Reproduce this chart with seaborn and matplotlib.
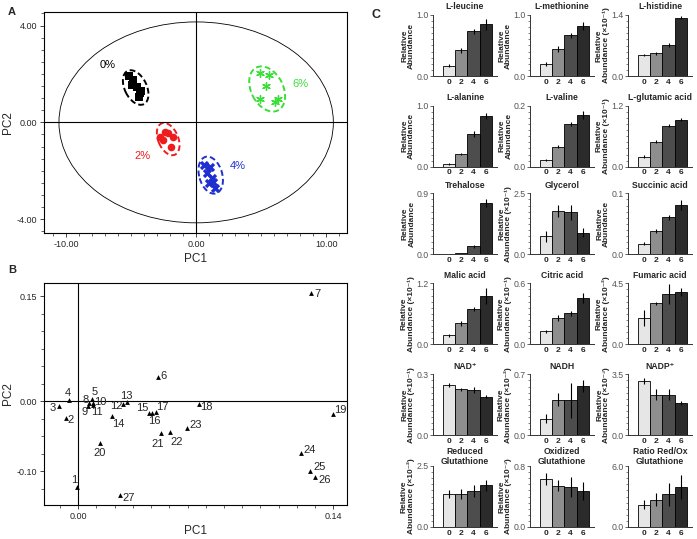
import numpy as np
import pandas as pd
import seaborn as sns
import matplotlib.pyplot as plt
from matplotlib.patches import Ellipse
from matplotlib.ticker import MultipleLocator
from matplotlib.transforms import ScaledTranslation

# ---- Panel A: PCA scores ----
zero_x = [-5.13, -4.82, -4.95, -4.56, -4.25, -4.30, -4.43]
zero_y = [1.91, 1.75, 1.54, 1.47, 1.30, 1.20, 1.06]
two_x = [-2.77, -2.38, -2.13, -1.75, -2.54, -1.92]
two_y = [-0.60, -0.39, -0.45, -0.60, -0.73, -1.01]
four_x = [0.62, 1.08, 0.82, 1.20, 0.95, 1.46, 1.33]
four_y = [-1.76, -1.83, -2.10, -2.31, -2.52, -2.73, -2.45]
six_x = [4.90, 5.60, 5.40, 4.90, 6.30, 6.05]
six_y = [2.05, 1.96, 1.50, 0.96, 0.98, 0.83]

# ---- Panel B: PCA loadings ----
load_ids = [1, 2, 3, 4, 5, 6, 7, 8, 9, 10, 11, 12, 13, 14, 15, 16, 17, 18,
            19, 20, 21, 22, 23, 24, 25, 26, 27]
load_x = [-0.0005, -0.0069, -0.0106, -0.0049, 0.0075, 0.0439, 0.1280, 0.0060,
          0.0055, 0.0079, 0.0082, 0.0247, 0.0269, 0.0183, 0.0388, 0.0407,
          0.0425, 0.0663, 0.1400, 0.0119, 0.0454, 0.0505, 0.0597, 0.1221,
          0.1274, 0.1302, 0.0229]
load_y = [-0.123, -0.0248, -0.0071, 0.0014, 0.0024, 0.0339, 0.1547, -0.0024,
          -0.0070, -0.0030, -0.0050, -0.0048, -0.0019, -0.0210, -0.0176,
          -0.0176, -0.0152, -0.0048, -0.0186, -0.0596, -0.0462, -0.0448,
          -0.0390, -0.0748, -0.0995, -0.1080, -0.134]

# ---- Panel C: metabolite bar charts ----
conc_labels = ["0", "2", "4", "6"]
metabolites = ["L-leucine", "L-methionine", "L-histidine",
               "L-alanine", "L-valine", "L-glutamic acid",
               "Trehalose", "Glycerol", "Succinic acid",
               "Malic acid", "Citric acid", "Fumaric acid",
               "NAD⁺", "NADH", "NADP⁺",
               "Reduced\nGlutathione", "Oxidized\nGlutathione", "Ratio Red/Ox\nGlutathione"]
y_max = [1.0, 1.0, 1.4, 1.0, 0.2, 1.2, 0.9, 2.5, 0.1,
         1.2, 0.6, 4.5, 0.3, 0.7, 3.5, 2.5, 0.8, 6.0]
y_scale = ["", "", " (×10⁻¹)", "", "", " (×10⁻¹)", "", " (×10⁻¹)", "",
           " (×10⁻¹)", " (×10⁻¹)", " (×10⁻²)", " (×10⁻¹)", " (×10⁻²)", " (×10⁻³)",
           " (×10⁻²)", " (×10⁻³)", None]
means = [
    [0.17, 0.42, 0.73, 0.85],
    [0.20, 0.44, 0.67, 0.82],
    [0.48, 0.52, 0.71, 1.34],
    [0.045, 0.21, 0.53, 0.83],
    [0.022, 0.066, 0.139, 0.169],
    [0.195, 0.49, 0.81, 0.92],
    [0.005, 0.015, 0.12, 0.76],
    [0.74, 1.77, 1.72, 0.88],
    [0.0176, 0.038, 0.061, 0.081],
    [0.18, 0.41, 0.69, 0.95],
    [0.13, 0.256, 0.305, 0.453],
    [1.96, 3.03, 3.69, 3.87],
    [0.246, 0.226, 0.224, 0.19],
    [0.19, 0.41, 0.40, 0.565],
    [3.11, 2.33, 2.33, 1.85],
    [1.34, 1.34, 1.48, 1.71],
    [0.625, 0.54, 0.525, 0.47],
    [2.21, 2.70, 3.20, 3.96],
]
errs = [
    [0.02, 0.04, 0.04, 0.09],
    [0.03, 0.05, 0.04, 0.07],
    [0.02, 0.03, 0.04, 0.03],
    [0.01, 0.02, 0.05, 0.05],
    [0.004, 0.006, 0.007, 0.013],
    [0.03, 0.03, 0.03, 0.03],
    [0.003, 0.01, 0.02, 0.06],
    [0.22, 0.25, 0.30, 0.18],
    [0.003, 0.003, 0.004, 0.008],
    [0.03, 0.05, 0.04, 0.15],
    [0.015, 0.03, 0.025, 0.05],
    [0.60, 0.12, 0.75, 0.30],
    [0.01, 0.008, 0.015, 0.006],
    [0.05, 0.07, 0.20, 0.07],
    [0.18, 0.30, 0.30, 0.10],
    [0.17, 0.20, 0.25, 0.22],
    [0.08, 0.07, 0.13, 0.12],
    [0.40, 0.65, 1.15, 1.20],
]
bar_colors = ["#e6e6e6", "#8e8e8e", "#4d4d4d", "#2b2b2b"]

W, H = 697, 539


def px_axes(fig, left, top, width, height):
    return fig.add_axes([left / W, 1 - (top + height) / H, width / W, height / H])


def style_pca(ax):
    for sp in ax.spines.values():
        sp.set_linewidth(0.8)
        sp.set_color("black")
    ax.tick_params(labelsize=6.5, length=3, width=0.6, pad=2)
    ax.tick_params(which="minor", length=2, width=0.5)
    ax.set_xlabel("PC1", fontsize=8.5, labelpad=3)
    ax.set_ylabel("PC2", fontsize=8.5, labelpad=2)


def main():
    sns.set_style("ticks")
    plt.rcParams['font.family'] = ['Liberation Sans', 'DejaVu Sans']

    fig = plt.figure(figsize=(W / 100, H / 100), dpi=100)

    # Panel A
    ax_a = px_axes(fig, 44, 12, 303, 221)
    ax_a.add_patch(Ellipse((0, 0), 21.1, 8.3, fill=False, ec="black", lw=0.6))
    ax_a.axhline(0, color="black", lw=0.8)
    ax_a.axvline(0, color="black", lw=0.8)
    # confidence ellipses: centre in data, size (px) and tilt on screen
    groups = [
        ("0%", zero_x, zero_y, "black", "s", 28, (-4.65, 1.44), 37, 22, -64, (-6.8, 2.35)),
        ("2%", two_x, two_y, "#ee1c1c", "o", 30, (-2.15, -0.69), 34, 20, -67, (-4.1, -1.4)),
        ("4%", four_x, four_y, "#1f2fd0", "X", 45, (1.12, -2.18), 38, 23, -74, (3.2, -1.8)),
        ("6%", six_x, six_y, "#3ade3a", (6, 2, 0), 30, (5.46, 1.38), 48, 32, -63, (8.0, 1.6)),
    ]
    for name, xs, ys, col, mk, size, center, ew, eh, ang, lab in groups:
        if isinstance(mk, tuple):
            sns.scatterplot(x=xs, y=ys, color=col, marker=mk, s=size, linewidth=1.0, ax=ax_a)
        else:
            sns.scatterplot(x=xs, y=ys, color=col, marker=mk, s=size, linewidth=0, ax=ax_a)
        tr = fig.dpi_scale_trans + ScaledTranslation(center[0], center[1], ax_a.transData)
        ax_a.add_patch(Ellipse((0, 0), ew / 100, eh / 100, angle=ang, fill=False, ec=col,
                               lw=1.4, ls=(0, (3, 1.6)), transform=tr))
        ax_a.text(lab[0], lab[1], name, color=col, fontsize=8, ha="center", va="center")
    ax_a.set_xlim(-11.7, 11.6)
    ax_a.set_ylim(-4.57, 4.56)
    ax_a.set_xticks([-10, 0, 10])
    ax_a.set_xticklabels(["-10.00", "0.00", "10.00"])
    ax_a.set_yticks([-4, 0, 4])
    ax_a.set_yticklabels(["-4.00", "0.00", "4.00"])
    ax_a.xaxis.set_minor_locator(MultipleLocator(1))
    ax_a.yaxis.set_minor_locator(MultipleLocator(0.5))
    style_pca(ax_a)

    # Panel B
    ax_b = px_axes(fig, 44, 283, 303, 222)
    ax_b.axhline(0, color="black", lw=0.8)
    ax_b.axvline(0, color="black", lw=0.8)
    sns.scatterplot(x=load_x, y=load_y, color="black", marker="^", s=12, linewidth=0, ax=ax_b)
    # label offsets in pixels (dx, dy)
    offsets = [(-3.3, 6.7), (5, -1.7), (-6.3, -1.7), (-2, 7.3), (2.3, 7.3), (5.7, 1.3),
               (6, -1.3), (-3.3, 2.7), (-3.3, -6.3), (7.3, 1.7), (4, -7.7), (-7.3, -1.7),
               (-0.7, 6.3), (6.7, -7.7), (-6.3, 5.7), (2, -7.7), (6.7, 5), (7.7, -2.3),
               (6.7, 4), (0, -10), (-3, -10.7), (6.3, -9.3), (9, 3.3), (8.7, 3.3),
               (9.7, 3.3), (9.7, -3.3), (8.7, -3)]
    for lid, x, y, (dx, dy) in zip(load_ids, load_x, load_y, offsets):
        ax_b.annotate(str(lid), (x, y), xytext=(dx * 0.72, dy * 0.72),
                      textcoords="offset points", ha="center", va="center", fontsize=8)
    ax_b.set_xlim(-0.0188, 0.1475)
    ax_b.set_ylim(-0.1486, 0.169)
    ax_b.set_xticks([0, 0.14])
    ax_b.set_xticklabels(["0.00", "0.14"])
    ax_b.set_yticks([-0.10, 0, 0.15])
    ax_b.set_yticklabels(["-0.10", "0.00", "0.15"])
    ax_b.xaxis.set_minor_locator(MultipleLocator(0.01))
    ax_b.yaxis.set_minor_locator(MultipleLocator(0.025))
    style_pca(ax_b)

    # Panel C
    col_left = [433, 530, 628]
    row_top = [15, 105.7, 193.3, 283.3, 374.3, 466]
    for i, name in enumerate(metabolites):
        r, c = divmod(i, 3)
        ax = px_axes(fig, col_left[c], row_top[r], 64, 61)
        df = pd.DataFrame({"conc": conc_labels, "value": means[i]})
        sns.barplot(data=df, x="conc", y="value", hue="conc", palette=bar_colors,
                    width=1.0, edgecolor="black", linewidth=0.6, errorbar=None,
                    legend=False, ax=ax)
        ax.errorbar(np.arange(len(conc_labels)), means[i], yerr=errs[i], fmt="none",
                    ecolor="black", elinewidth=0.8, capsize=0)
        ax.set_xlim(-1.3, 3.9)
        ax.set_ylim(0, y_max[i])
        ax.set_yticks([0, y_max[i]])
        ax.set_yticklabels(["0.0", f"{y_max[i]:.1f}"], color="#555555", fontsize=6.3)
        ax.yaxis.set_minor_locator(MultipleLocator(y_max[i] / 10))
        ax.tick_params(axis="y", length=2, width=0.5, pad=1)
        ax.tick_params(axis="y", which="minor", length=1.2, width=0.4)
        ax.tick_params(axis="x", length=0, pad=2)
        for t in ax.get_xticklabels():
            t.set_fontsize(6)
            t.set_fontweight("bold")
        ax.set_xlabel("")
        if y_scale[i] is None:
            ax.set_ylabel("")
        else:
            ax.set_ylabel("Relative\nAbundance" + y_scale[i], fontsize=6.0,
                          fontweight="bold", labelpad=1, linespacing=1.0)
        two_line = "\n" in name
        ax.set_title(name, fontsize=6.2, fontweight="bold", pad=1 if two_line else 4,
                     linespacing=1.1)
        sns.despine(ax=ax)
        for sp in ("left", "bottom"):
            ax.spines[sp].set_linewidth(0.7)
            ax.spines[sp].set_color("#333333")

    fig.text(8 / W, 1 - 12 / H, "A", fontsize=8, fontweight="bold", va="center")
    fig.text(8 / W, 1 - 270 / H, "B", fontsize=8, fontweight="bold", va="center")
    fig.text(372 / W, 1 - 15 / H, "C", fontsize=9, fontweight="bold", va="center")

    fig.savefig("out.png", dpi=100)


if __name__ == "__main__":
    main()
